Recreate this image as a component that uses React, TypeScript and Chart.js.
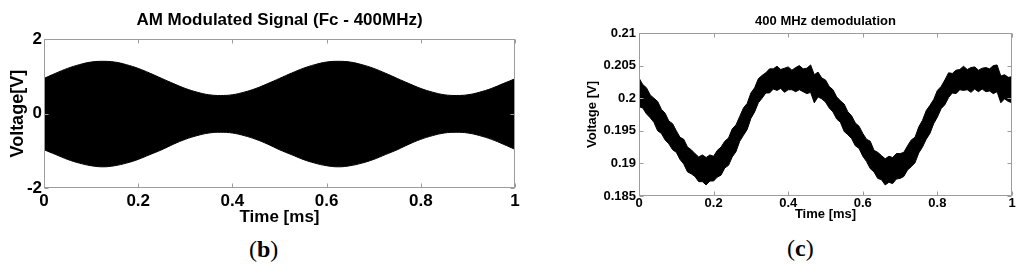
import React, { useEffect, useRef } from "react";
import { Chart, registerables } from "chart.js";

Chart.register(...registerables);

const FONT = "Arial, 'Liberation Sans', sans-serif";

// Panel (b): AM modulated signal envelope, sampled every 0.025 ms
const TIME_B_STEP = 0.025;
const ENV_UPPER_B = [
  0.95, 1.09, 1.22, 1.32, 1.39, 1.41, 1.39, 1.32, 1.22, 1.09,
  0.95, 0.81, 0.68, 0.58, 0.51, 0.49, 0.51, 0.58, 0.68, 0.81,
  0.95, 1.09, 1.22, 1.32, 1.39, 1.41, 1.39, 1.32, 1.22, 1.09,
  0.95, 0.81, 0.68, 0.58, 0.51, 0.49, 0.51, 0.58, 0.68, 0.81,
  0.94,
];
const ENV_LOWER_B = [
  -0.97, -1.1, -1.23, -1.33, -1.4, -1.43, -1.4, -1.33, -1.23, -1.1,
  -0.97, -0.82, -0.69, -0.59, -0.52, -0.5, -0.52, -0.59, -0.69, -0.82,
  -0.97, -1.1, -1.23, -1.33, -1.4, -1.43, -1.4, -1.33, -1.23, -1.1,
  -0.97, -0.82, -0.69, -0.59, -0.52, -0.5, -0.52, -0.59, -0.69, -0.82,
  -0.96,
];
const Y_TICKS_B = [-2, 0, 2];

// Panel (c): demodulated signal noise band (upper / lower edge), every 0.01 ms
const TIME_C_STEP = 0.01;
const BAND_TOP_C = [
  0.2031, 0.2021, 0.2016, 0.2005, 0.2000, 0.1995, 0.1983, 0.1977, 0.1965, 0.1961,
  0.1950, 0.1940, 0.1937, 0.1925, 0.1921, 0.1915, 0.1910, 0.1913, 0.1909, 0.1913,
  0.1911, 0.1920, 0.1925, 0.1934, 0.1939, 0.1953, 0.1959, 0.1972, 0.1985, 0.1992,
  0.2008, 0.2016, 0.2030, 0.2035, 0.2039, 0.2045, 0.2045, 0.2049, 0.2044, 0.2046,
  0.2048, 0.2043, 0.2047, 0.2050, 0.2045, 0.2046, 0.2051, 0.2036, 0.2040, 0.2031,
  0.2028, 0.2018, 0.2013, 0.2002, 0.1996, 0.1991, 0.1979, 0.1973, 0.1962, 0.1957,
  0.1946, 0.1937, 0.1934, 0.1920, 0.1917, 0.1912, 0.1907, 0.1911, 0.1909, 0.1915,
  0.1915, 0.1917, 0.1927, 0.1936, 0.1940, 0.1956, 0.1966, 0.1981, 0.1989, 0.1998,
  0.2012, 0.2018, 0.2028, 0.2039, 0.2038, 0.2043, 0.2044, 0.2049, 0.2044, 0.2047,
  0.2048, 0.2043, 0.2046, 0.2047, 0.2045, 0.2050, 0.2051, 0.2034, 0.2036, 0.2032,
  0.2033,
];
const BAND_BOTTOM_C = [
  0.1987, 0.1985, 0.1976, 0.1970, 0.1963, 0.1950, 0.1946, 0.1936, 0.1930, 0.1921,
  0.1917, 0.1906, 0.1899, 0.1887, 0.1884, 0.1880, 0.1872, 0.1872, 0.1867, 0.1873,
  0.1873, 0.1879, 0.1882, 0.1893, 0.1897, 0.1910, 0.1918, 0.1934, 0.1943, 0.1952,
  0.1969, 0.1979, 0.1993, 0.2000, 0.2008, 0.2008, 0.2014, 0.2012, 0.2015, 0.2009,
  0.2013, 0.2013, 0.2010, 0.2013, 0.2010, 0.2007, 0.2009, 0.1993, 0.2002, 0.1999,
  0.1994, 0.1985, 0.1979, 0.1968, 0.1963, 0.1949, 0.1944, 0.1938, 0.1927, 0.1923,
  0.1911, 0.1903, 0.1892, 0.1887, 0.1877, 0.1875, 0.1867, 0.1871, 0.1869, 0.1876,
  0.1877, 0.1880, 0.1890, 0.1895, 0.1901, 0.1916, 0.1925, 0.1937, 0.1946, 0.1961,
  0.1971, 0.1984, 0.1990, 0.2001, 0.2008, 0.2007, 0.2013, 0.2012, 0.2013, 0.2009,
  0.2014, 0.2010, 0.2014, 0.2010, 0.2011, 0.2007, 0.2010, 0.1993, 0.1999, 0.1995,
  0.1993,
];

const fmt = (v: number | string) => String(+Number(v).toFixed(3));

const boxPlugin = {
  id: "matlabBox",
  afterDatasetsDraw(chart: any) {
    const { ctx, chartArea } = chart;
    const { left, right, top, bottom } = chartArea;
    ctx.save();
    ctx.strokeStyle = "#9c9c9c";
    ctx.lineWidth = 1;
    const L = Math.round(left) + 0.5;
    const R = Math.round(right) - 0.5;
    const T = Math.round(top) + 0.5;
    const B = Math.round(bottom) - 0.5;
    ctx.strokeRect(L, T, R - L, B - T);
    const xs = chart.scales.x;
    const ys = chart.scales.y;
    ctx.beginPath();
    xs.ticks.forEach((t: any) => {
      const p = Math.round(xs.getPixelForValue(t.value)) + 0.5;
      ctx.moveTo(p, B);
      ctx.lineTo(p, B - 4);
      ctx.moveTo(p, T);
      ctx.lineTo(p, T + 4);
    });
    ys.ticks.forEach((t: any) => {
      const p = Math.round(ys.getPixelForValue(t.value)) + 0.5;
      ctx.moveTo(L, p);
      ctx.lineTo(L + 4, p);
      ctx.moveTo(R, p);
      ctx.lineTo(R - 4, p);
    });
    ctx.stroke();
    ctx.restore();
  },
};

function makeChartB(canvas: HTMLCanvasElement) {
  const up = ENV_UPPER_B.map((v, i) => ({ x: i * TIME_B_STEP, y: v }));
  const lo = ENV_LOWER_B.map((v, i) => ({ x: i * TIME_B_STEP, y: v }));
  return new Chart(canvas, {
    type: "line",
    data: {
      datasets: [
        {
          data: up,
          borderColor: "#000",
          backgroundColor: "#000",
          borderWidth: 1,
          pointRadius: 0,
          tension: 0.4,
          fill: "+1",
        },
        {
          data: lo,
          borderColor: "#000",
          backgroundColor: "#000",
          borderWidth: 1,
          pointRadius: 0,
          tension: 0.4,
          fill: false,
        },
      ],
    },
    options: {
      animation: false,
      responsive: false,
      devicePixelRatio: 1,
      layout: { padding: { left: 0, right: 25, top: 0, bottom: 4 } },
      plugins: {
        legend: { display: false },
        tooltip: { enabled: false },
        title: {
          display: true,
          fullSize: false,
          text: "AM Modulated Signal (Fc - 400MHz)",
          color: "#000",
          font: { family: FONT, size: 17, weight: "bold" },
          padding: { top: 10, bottom: 9 },
        },
      },
      scales: {
        x: {
          type: "linear",
          min: 0,
          max: 1,
          ticks: {
            stepSize: 0.2,
            color: "#000",
            font: { family: FONT, size: 17, weight: "bold" },
            padding: 3,
            maxRotation: 0,
            autoSkip: false,
            callback: (v: any) => fmt(v),
          },
          grid: { display: true, drawOnChartArea: false, drawTicks: false },
          border: { display: false },
          title: {
            display: true,
            text: "Time [ms]",
            color: "#000",
            font: { family: FONT, size: 17, weight: "bold" },
            padding: 0,
          },
          afterFit: (s: any) => {
            s.height = 40;
          },
        },
        y: {
          min: -2,
          max: 2,
          afterBuildTicks: (s: any) => {
            s.ticks = Y_TICKS_B.map((v) => ({ value: v }));
          },
          ticks: {
            color: "#000",
            font: { family: FONT, size: 17, weight: "bold" },
            padding: 2,
            callback: (v: any) => fmt(v),
          },
          grid: { display: true, drawOnChartArea: false, drawTicks: false },
          border: { display: false },
          title: {
            display: true,
            text: "Voltage[V]",
            color: "#000",
            font: { family: FONT, size: 18, weight: "bold" },
            padding: { top: 7, bottom: 0 },
          },
          afterFit: (s: any) => {
            s.width = 44;
          },
        },
      },
    },
    plugins: [boxPlugin],
  } as any);
}

function makeChartC(canvas: HTMLCanvasElement) {
  const top = BAND_TOP_C.map((v, i) => ({ x: i * TIME_C_STEP, y: v }));
  const bot = BAND_BOTTOM_C.map((v, i) => ({ x: i * TIME_C_STEP, y: v }));
  return new Chart(canvas, {
    type: "line",
    data: {
      datasets: [
        {
          data: top,
          borderColor: "#000",
          backgroundColor: "#000",
          borderWidth: 1,
          pointRadius: 0,
          tension: 0,
          fill: "+1",
        },
        {
          data: bot,
          borderColor: "#000",
          backgroundColor: "#000",
          borderWidth: 1,
          pointRadius: 0,
          tension: 0,
          fill: false,
        },
      ],
    },
    options: {
      animation: false,
      responsive: false,
      devicePixelRatio: 1,
      layout: { padding: { left: 0, right: 12, top: 0, bottom: 3 } },
      plugins: {
        legend: { display: false },
        tooltip: { enabled: false },
        title: {
          display: true,
          fullSize: false,
          text: "400 MHz demodulation",
          color: "#000",
          font: { family: FONT, size: 13, weight: "bold" },
          padding: { top: 14, bottom: 3.4 },
        },
      },
      scales: {
        x: {
          type: "linear",
          min: 0,
          max: 1,
          ticks: {
            stepSize: 0.2,
            color: "#000",
            font: { family: FONT, size: 13, weight: "bold" },
            padding: 0,
            maxRotation: 0,
            autoSkip: false,
            callback: (v: any) => fmt(v),
          },
          grid: { display: true, drawOnChartArea: false, drawTicks: false },
          border: { display: false },
          title: {
            display: true,
            text: "Time [ms]",
            color: "#000",
            font: { family: FONT, size: 13, weight: "bold" },
            padding: 0,
          },
          afterFit: (s: any) => {
            s.height = 26;
          },
        },
        y: {
          min: 0.185,
          max: 0.21,
          ticks: {
            stepSize: 0.005,
            color: "#000",
            font: { family: FONT, size: 13, weight: "bold" },
            padding: 3,
            callback: (v: any) => fmt(v),
          },
          grid: { display: true, drawOnChartArea: false, drawTicks: false },
          border: { display: false },
          title: {
            display: true,
            text: "Voltage [V]",
            color: "#000",
            font: { family: FONT, size: 13, weight: "bold" },
            padding: { top: 25, bottom: 0 },
          },
          afterFit: (s: any) => {
            s.width = 79;
          },
        },
      },
    },
    plugins: [boxPlugin],
  } as any);
}

const captionStyle: React.CSSProperties = {
  position: "absolute",
  fontFamily: "'Liberation Serif', 'Times New Roman', serif",
  fontSize: 24,
  color: "#000",
  lineHeight: "28px",
  whiteSpace: "nowrap",
};

export default function App() {
  const refB = useRef<HTMLCanvasElement>(null);
  const refC = useRef<HTMLCanvasElement>(null);

  useEffect(() => {
    const cb = makeChartB(refB.current!);
    const cc = makeChartC(refC.current!);
    return () => {
      cb.destroy();
      cc.destroy();
    };
  }, []);

  return (
    <div
      style={{
        position: "absolute",
        left: 0,
        top: 0,
        width: 1024,
        height: 273,
        background: "#fff",
        overflow: "hidden",
      }}
    >
      <canvas
        ref={refB}
        width={540}
        height={232}
        style={{ position: "absolute", left: 0, top: 0, width: 540, height: 232 }}
      />
      <canvas
        ref={refC}
        width={464}
        height={225}
        style={{ position: "absolute", left: 560, top: 0, width: 464, height: 225 }}
      />
      <div style={{ ...captionStyle, left: 249, top: 235 }}>
        (<b>b</b>)
      </div>
      <div style={{ ...captionStyle, left: 787, top: 234 }}>
        (<b>c</b>)
      </div>
    </div>
  );
}
